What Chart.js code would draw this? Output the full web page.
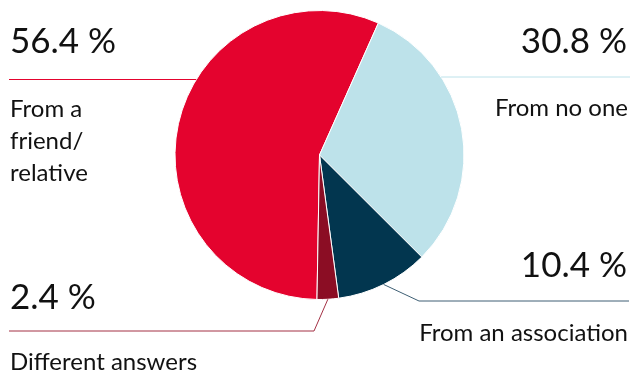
<!DOCTYPE html>
<html>
<head>
<meta charset="utf-8">
<script src="https://cdn.jsdelivr.net/npm/chart.js@4.4.1/dist/chart.umd.min.js"></script>
<style>
  html, body { margin: 0; padding: 0; background: #fff; }
  #wrap { width: 632px; height: 376px; position: relative; }
</style>
</head>
<body>
<div id="wrap"><canvas id="c" width="632" height="376"></canvas></div>
<script>
const categories = ['From a friend/relative', 'From no one', 'From an association', 'Different answers'];
const values = [56.4, 30.8, 10.4, 2.4];
const valueLabels = ['56.4 %', '30.8 %', '10.4 %', '2.4 %'];
const labelLines = [['From a', 'friend/', 'relative'], ['From no one'], ['From an association'], ['Different answers']];
const colors = ['#E4032E', '#BDE2EA', '#02364F', '#8B0D24'];
const lineColors = ['#E4032E', '#BDE2EA', '#3E5F74', '#A33044'];

const callouts = [
  { side: 'left',  numY: 53,  lineY: 79.5, textY: 117, lh: 32, anchor: 'h',   edgeX: 9 },
  { side: 'right', numY: 53,  lineY: 77,   textY: 116, lh: 32, anchor: 'h',   edgeX: 630 },
  { side: 'right', numY: 277, lineY: 301,  textY: 341, lh: 32, anchor: 'mid', edgeX: 629, elbowX: 419 },
  { side: 'left',  numY: 309, lineY: 331,  textY: 370, lh: 32, anchor: 'mid', edgeX: 9,   elbowX: 314 }
];

const FONT = '"Lato", "Noto Sans", sans-serif';

const calloutPlugin = {
  id: 'callouts',
  afterDraw(chart) {
    const ctx = chart.ctx;
    const arcs = chart.getDatasetMeta(0).data;
    ctx.save();
    callouts.forEach((c, i) => {
      const a = arcs[i];
      const cx = a.x, cy = a.y, r = a.outerRadius;
      ctx.strokeStyle = lineColors[i];
      ctx.lineWidth = 1;
      ctx.beginPath();
      if (c.anchor === 'h') {
        const dy = c.lineY - cy;
        const dx = Math.sqrt(Math.max(r * r - dy * dy, 0));
        const ax = c.side === 'left' ? cx - dx : cx + dx;
        ctx.moveTo(c.edgeX, c.lineY);
        ctx.lineTo(ax, c.lineY);
      } else {
        const mid = (a.startAngle + a.endAngle) / 2;
        const ax = cx + r * Math.cos(mid);
        const ay = cy + r * Math.sin(mid);
        ctx.moveTo(ax, ay);
        ctx.lineTo(c.elbowX, c.lineY);
        ctx.lineTo(c.edgeX, c.lineY);
      }
      ctx.stroke();

      ctx.fillStyle = '#111';
      ctx.textBaseline = 'alphabetic';
      ctx.textAlign = c.side === 'left' ? 'left' : 'right';
      const tx = c.side === 'left' ? 10 : 627;
      ctx.font = '400 35px ' + FONT;
      ctx.fillText(valueLabels[i], tx, c.numY);
      ctx.font = '400 24px ' + FONT;
      labelLines[i].forEach((t, k) => {
        ctx.fillText(t, c.side === 'left' ? 10 : 628, c.textY + k * c.lh);
      });
    });
    ctx.restore();
  }
};

new Chart(document.getElementById('c'), {
  type: 'pie',
  data: {
    labels: categories,
    datasets: [{
      data: values,
      backgroundColor: colors,
      borderColor: '#ffffff',
      borderWidth: 1,
      hoverOffset: 0
    }]
  },
  options: {
    responsive: false,
    animation: false,
    events: [],
    rotation: 181,
    layout: { padding: { top: 10, bottom: 76, left: 7, right: 0 } },
    plugins: {
      legend: { display: false },
      tooltip: { enabled: false }
    }
  },
  plugins: [calloutPlugin]
});
</script>
</body>
</html>
